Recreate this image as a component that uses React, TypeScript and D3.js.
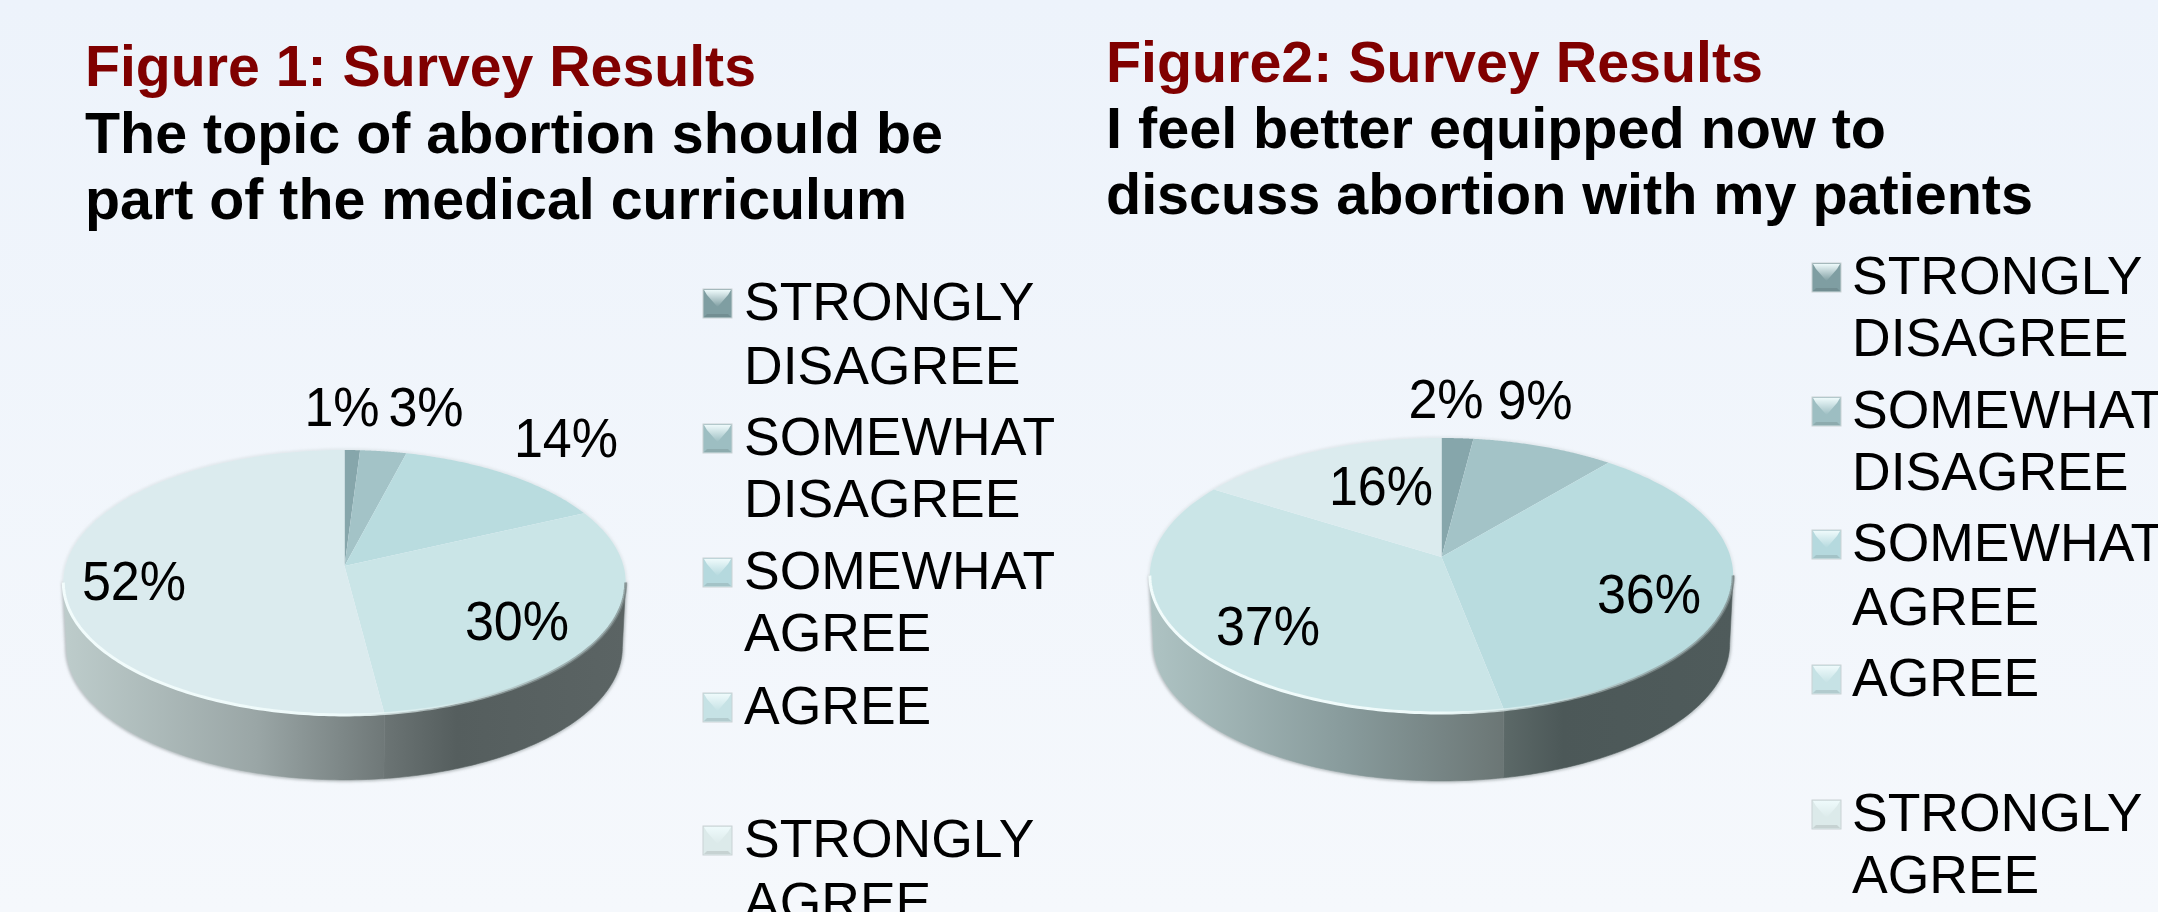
import React from "react";
import * as d3 from "d3";

const WIDTH = 2158;
const HEIGHT = 912;

const categories = ["STRONGLY DISAGREE", "SOMEWHAT DISAGREE", "SOMEWHAT AGREE", "AGREE", "STRONGLY AGREE"];
const surveyOneValues = [1, 3, 14, 30, 52];
const surveyTwoValues = [2, 9, 36, 37, 16];
const sliceColors = ["#86a6ab", "#a3c3c7", "#b9dcdf", "#cae5e7", "#dbebee"];
const swatchColors = ["#7f9ea2", "#9dbec2", "#b5d9de", "#c6e2e5", "#dceaea"];
const legendLines = [["STRONGLY", "DISAGREE"], ["SOMEWHAT", "DISAGREE"], ["SOMEWHAT", "AGREE"], ["AGREE"], ["STRONGLY", "AGREE"]];
const titleOne = ["Figure 1: Survey Results", "The topic of abortion should be", "part of the medical curriculum"];
const titleTwo = ["Figure2: Survey Results", "I feel better equipped now to", "discuss abortion with my patients"];

const FONT = "'Liberation Sans', Arial, sans-serif";

type WallShade = { from: string; mid: string; to: string; at: number };

type Layout = {
  id: string;
  values: number[];
  cx: number; apexY: number; a: number; b: number; k: number; depth: number;
  wallShades: Record<number, WallShade>;
  labelPos: [number, number][];
  title: string[];
  titleX: number; titleY: number[];
  titleWidths: number[];
  legendSwatchX: number; legendTextX: number; legendBaselines: number[][];
};

const layouts: Layout[] = [
  {
    id: "one", values: surveyOneValues, cx: 344.5, apexY: 566, a: 279, b: 130.4, k: 0.1244, depth: 65,
    wallShades: {
      3: { from: "#6b7474", mid: "#555e5e", to: "#5b6464", at: 0.3 },
      4: { from: "#bdcccb", mid: "#9aa6a6", to: "#6f7878", at: 0.6 },
    },
    labelPos: [[342, 426], [426, 426], [566, 457], [517, 640], [134, 600]],
    title: titleOne, titleX: 85, titleY: [86, 153, 219], titleWidths: [671, 858, 822],
    legendSwatchX: 703, legendTextX: 744, legendBaselines: [[320, 384], [455, 517], [589, 651], [724], [857, 920]],
  },
  {
    id: "two", values: surveyTwoValues, cx: 1441.5, apexY: 557, a: 289, b: 135, k: 0.1345, depth: 68,
    wallShades: {
      2: { from: "#5c6968", mid: "#4c5858", to: "#4f5b5b", at: 0.26 },
      3: { from: "#aec3c3", mid: "#889b9c", to: "#6b7675", at: 0.55 },
      4: { from: "#aec3c3", mid: "#aec3c3", to: "#aec3c3", at: 0.5 },
    },
    labelPos: [[1446, 418], [1535, 419], [1649, 613], [1268, 645], [1381, 505]],
    title: titleTwo, titleX: 1106, titleY: [82, 148, 214], titleWidths: [657, 780, 927],
    legendSwatchX: 1812, legendTextX: 1852, legendBaselines: [[294, 356], [428, 490], [561, 625], [696], [831, 893]],
  },
];

// Perspective mapping of a point on the tilted disc, angle measured clockwise from 12 o'clock.
function project(l: Layout, angle: number, radius = 1): [number, number] {
  const u = radius * Math.sin(angle);
  const v = radius * Math.cos(angle);
  const w = 1 + l.k * v;
  return [l.cx + (l.a * u) / w, l.apexY - (l.b * v) / w];
}

// The underside of the disc sits slightly narrower than the top face.
function lowered(l: Layout, [x, y]: [number, number]): [number, number] {
  return [l.cx + (x - l.cx) * 0.988, y + l.depth];
}

const samples = (start: number, end: number, n = 90) => d3.range(n + 1).map((i) => start + ((end - start) * i) / n);
const pathLine = d3.line<[number, number]>().x((d) => d[0]).y((d) => d[1]);

function wedgePath(l: Layout, start: number, end: number) {
  const rim = samples(start, end).map((t) => project(l, t));
  return pathLine([project(l, 0, 0), ...rim]) + "Z";
}

// Outer wall of a slice between two angles, limited to the front half of the disc.
function wallPath(l: Layout, start: number, end: number) {
  const s = Math.max(start, rimExtreme(l, 1));
  const e = Math.min(end, rimExtreme(l, -1));
  if (s >= e) return null;
  const rim = samples(s, e).map((t) => project(l, t));
  const lower = rim.slice().reverse().map((p) => lowered(l, p));
  return pathLine([...rim, ...lower]) + "Z";
}

// Angle where the rim reaches its widest point on the right (+1) or left (-1).
function rimExtreme(l: Layout, side: number) {
  const turn = Math.PI / 2 + Math.asin(l.k);
  return side > 0 ? turn : 2 * Math.PI - turn;
}

const pieLayout = d3.pie<number>().sort(null).startAngle(0).endAngle(2 * Math.PI);

function PieBlock({ l }: { l: Layout }) {
  const arcs = pieLayout(l.values);
  const rimFront = samples(rimExtreme(l, 1), rimExtreme(l, -1), 180).map((t) => project(l, t));
  const rimBack = samples(rimExtreme(l, -1), rimExtreme(l, 1) + 2 * Math.PI, 180).map((t) => project(l, t));
  const underside = rimFront.map((p) => lowered(l, p));
  const xs = rimFront.map((d) => d[0]);
  const x0 = d3.min(xs) as number;
  const x1 = d3.max(xs) as number;
  const wallOutline = pathLine([rimFront[0], ...underside, rimFront[rimFront.length - 1]]) as string;

  return (
    <g>
      <defs>
        {arcs.map((arc, i) => {
          const shade = l.wallShades[i];
          if (!shade) return null;
          const s = Math.max(arc.startAngle, rimExtreme(l, 1));
          const e = Math.min(arc.endAngle, rimExtreme(l, -1));
          if (s >= e) return null;
          return (
            <linearGradient key={i} id={`wall-${l.id}-${i}`} gradientUnits="userSpaceOnUse"
              x1={project(l, e)[0]} x2={project(l, s)[0]} y1={0} y2={0}>
              <stop offset="0%" stopColor={shade.from} />
              <stop offset={`${shade.at * 100}%`} stopColor={shade.mid} />
              <stop offset="100%" stopColor={shade.to} />
            </linearGradient>
          );
        })}
        <linearGradient id={`bevel-${l.id}`} gradientUnits="userSpaceOnUse" x1={x0} x2={x1} y1={0} y2={0}>
          <stop offset="0%" stopColor="#f2fcfc" />
          <stop offset="50%" stopColor="#eefafa" />
          <stop offset="68%" stopColor="#dff0f0" stopOpacity={0.5} />
          <stop offset="85%" stopColor="#8d9a9a" stopOpacity={0.6} />
          <stop offset="100%" stopColor="#7b8787" stopOpacity={0.7} />
        </linearGradient>
        <filter id={`soft-${l.id}`} filterUnits="userSpaceOnUse" x={x0 - 20} y={l.apexY - 180} width={x1 - x0 + 40} height={420}>
          <feGaussianBlur stdDeviation="1.6" />
        </filter>
      </defs>

      {/* soft shadow hugging the wall */}
      <path d={wallOutline} fill="none" stroke="#6f7a7a" strokeOpacity={0.55} strokeWidth={3} filter={`url(#soft-${l.id})`} />
      <path d={pathLine(rimBack) as string} fill="none" stroke="#aebcbc" strokeOpacity={0.5} strokeWidth={1.5} filter={`url(#soft-${l.id})`} />

      {arcs.map((arc, i) => {
        const d = wallPath(l, arc.startAngle, arc.endAngle);
        const shade = l.wallShades[i];
        return d && shade ? <path key={i} d={d} fill={`url(#wall-${l.id}-${i})`} stroke={`url(#wall-${l.id}-${i})`} strokeWidth={0.6} /> : null;
      })}

      {arcs.map((arc, i) => (
        <path key={i} d={wedgePath(l, arc.startAngle, arc.endAngle)} fill={sliceColors[i]} />
      ))}

      {/* highlight along the near edge of the top face */}
      <path d={pathLine(rimFront) as string} fill="none" stroke={`url(#bevel-${l.id})`} strokeWidth={3} />

      {l.values.map((v, i) => (
        <text key={i} transform={`translate(${l.labelPos[i][0]},${l.labelPos[i][1]}) scale(0.93,1)`} textAnchor="middle"
          fontFamily={FONT} fontSize={56} fill="#000">
          {`${v}%`}
        </text>
      ))}

      {l.title.map((line, i) => (
        <text key={i} x={l.titleX} y={l.titleY[i]} textLength={l.titleWidths[i]} lengthAdjust="spacingAndGlyphs"
          fontFamily={FONT} fontWeight="bold" fontSize={58}
          fill={i === 0 ? "#800000" : "#000"}>
          {line}
        </text>
      ))}

      {legendLines.map((lines, i) => {
        const base = l.legendBaselines[i][0];
        return (
          <g key={i} aria-label={categories[i]}>
            <Swatch id={`${l.id}-${i}`} x={l.legendSwatchX} y={base - 31} color={swatchColors[i]} />
            {lines.map((t, j) => (
              <text key={j} x={l.legendTextX} y={l.legendBaselines[i][j]}
                fontFamily={FONT} fontSize={53.5} fill="#000">
                {t}
              </text>
            ))}
          </g>
        );
      })}
    </g>
  );
}

// Legend key drawn as a small bevelled tile.
function Swatch({ id, x, y, color }: { id: string; x: number; y: number; color: string }) {
  const w = 29;
  const h = 29;
  const base = d3.color(color) as d3.RGBColor;
  const gradId = `tile-${id}`;
  return (
    <g>
      <defs>
        <linearGradient id={gradId} x1="0" x2="0" y1="0" y2="1">
          <stop offset="0%" stopColor="#eefafb" />
          <stop offset="100%" stopColor={color} />
        </linearGradient>
      </defs>
      <rect x={x} y={y} width={w} height={h} fill={color} stroke="#c9d2d4" strokeWidth={1} />
      <path d={`M${x + 1},${y + 1}L${x + w - 1},${y + 1}L${x + w - 4},${y + 6}L${x + w / 2},${y + h * 0.62}L${x + 4},${y + 6}Z`} fill={`url(#${gradId})`} />
      <path d={`M${x + 1},${y + h - 1}L${x + w - 1},${y + h - 1}L${x + w - 4},${y + h - 4}L${x + 4},${y + h - 4}Z`} fill={base.darker(0.3).formatHex()} />
    </g>
  );
}

export default function App() {
  return (
    <svg width={WIDTH} height={HEIGHT} viewBox={`0 0 ${WIDTH} ${HEIGHT}`}
      style={{ position: "fixed", left: 0, top: 0, display: "block" }}>
      <defs>
        <linearGradient id="page" x1="0" x2="0" y1="0" y2="1">
          <stop offset="0%" stopColor="#edf3fb" />
          <stop offset="100%" stopColor="#f5f8fc" />
        </linearGradient>
      </defs>
      <rect width={WIDTH} height={HEIGHT} fill="url(#page)" />
      {layouts.map((l) => <PieBlock key={l.id} l={l} />)}
    </svg>
  );
}
